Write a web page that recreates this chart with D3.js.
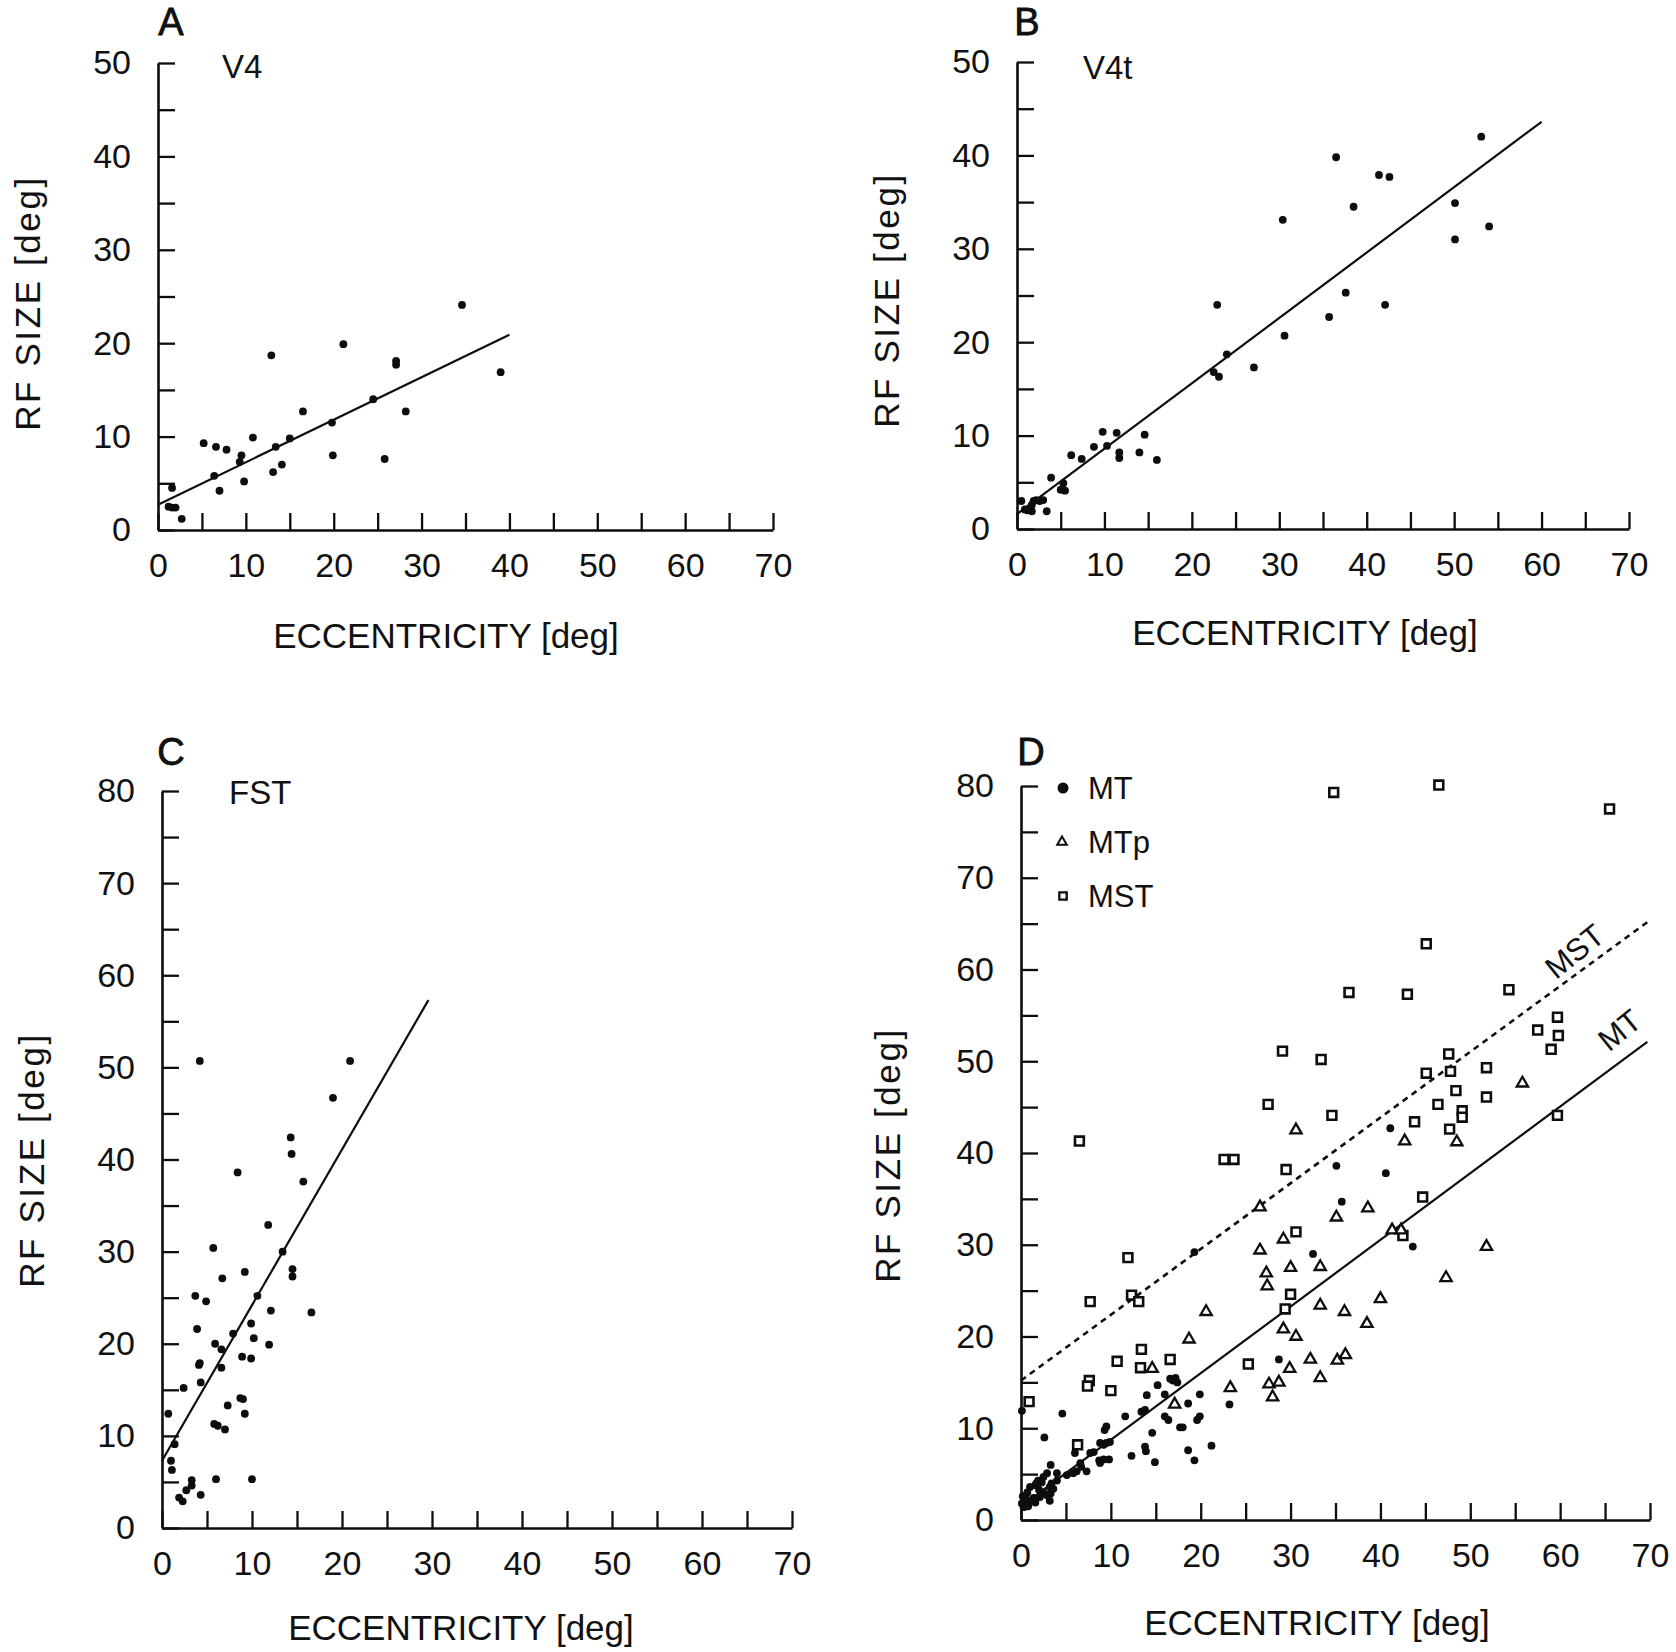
<!DOCTYPE html>
<html><head><meta charset="utf-8">
<script src="https://cdn.jsdelivr.net/npm/d3@7"></script>
<style>
body{margin:0;background:#fff;}
svg text{font-family:"Liberation Sans", Arial, Helvetica, sans-serif; fill:#111;}
</style></head><body>
<svg id="chart" width="1676" height="1652"></svg>
<script>
// ---------------- DATA ----------------
const xTickValues = [0,5,10,15,20,25,30,35,40,45,50,55,60,65,70];
const yTicksV4 = [0,5,10,15,20,25,30,35,40,45,50];
const yTicksMT = [0,5,10,15,20,25,30,35,40,45,50,55,60,65,70,75,80];

const v4Points = [[1.6,4.5],[1.2,2.5],[1.6,2.4],[2.0,2.4],[2.7,1.2],[5.2,9.3],[6.6,8.9],[6.4,5.8],[7.0,4.2],[7.8,8.6],[9.5,8.0],[9.3,7.3],[9.8,5.2],[10.8,9.9],[12.9,18.7],[13.1,6.2],[13.4,8.9],[14.1,7.0],[15.0,9.8],[16.5,12.7],[19.8,11.5],[19.9,8.0],[21.1,19.9],[24.5,14.0],[25.8,7.6],[27.1,17.7],[27.1,18.1],[28.2,12.7],[34.6,24.1],[39.0,16.9]];
const v4Fit = [[0,2.7],[40,20.9]];

const v4tPoints = [[0.5,3.0],[0.9,2.1],[1.2,2.0],[1.4,2.2],[1.7,2.6],[1.7,1.9],[1.9,3.0],[2.2,3.1],[2.6,3.0],[3.0,3.1],[3.4,1.9],[3.9,5.5],[5.0,4.2],[5.5,4.1],[5.3,4.9],[6.2,7.9],[7.4,7.5],[8.8,8.8],[9.8,10.4],[10.3,8.9],[11.4,10.3],[11.7,8.2],[11.7,7.6],[14.0,8.2],[14.6,10.1],[16.0,7.4],[22.9,24.0],[22.5,16.8],[23.1,16.3],[24.0,18.7],[27.1,17.3],[30.4,33.1],[30.6,20.7],[35.7,22.7],[36.5,39.8],[37.6,25.3],[38.5,34.5],[41.4,37.9],[42.6,37.7],[42.1,24.0],[50.1,34.9],[50.1,31.0],[53.1,42.0],[54.0,32.4]];
const v4tFit = [[0,1.6],[60,43.6]];

const fstPoints = [[0.7,12.4],[1.4,9.1],[1.0,7.3],[1.1,6.3],[2.4,15.2],[1.9,3.3],[2.3,2.9],[2.7,4.1],[3.3,5.2],[3.3,4.6],[4.3,3.6],[4.2,50.7],[3.7,25.2],[3.9,21.6],[4.1,17.7],[4.2,17.9],[4.3,15.8],[4.9,24.6],[5.7,30.4],[5.9,20.0],[6.6,19.4],[6.6,17.4],[6.7,27.1],[5.8,11.3],[6.2,11.1],[7.0,10.7],[6.0,5.3],[7.3,13.3],[7.9,21.1],[8.4,38.6],[8.7,14.1],[9.0,14.0],[9.2,12.4],[8.9,18.6],[9.2,27.8],[9.9,22.2],[9.9,18.4],[10.2,20.6],[10.0,5.3],[10.6,25.2],[11.8,32.9],[12.1,23.6],[11.9,19.9],[13.4,30.0],[14.3,42.4],[14.4,40.6],[14.5,28.1],[14.5,27.3],[15.7,37.6],[16.6,23.4],[19.0,46.7],[20.9,50.7]];
const fstFit = [[0,7.3],[29.6,57.3]];

const mtPoints = [[41.1,42.7],[35.1,38.6],[40.6,37.8],[35.7,34.7],[43.6,29.8],[32.5,29.0],[19.3,29.2],[28.7,17.5],[23.2,12.6],
[0.1,11.9],[4.6,11.6],[2.6,9.0],
[15.2,14.7],[16.0,13.7],[14.0,13.6],[16.9,15.2],[17.2,15.5],[17.4,15.0],[16.6,15.4],
[19.9,13.7],[18.6,12.7],[19.9,11.3],[19.6,10.9],[13.4,11.8],[13.8,12.0],[11.6,11.3],[9.5,10.2],[9.3,9.8],
[16.0,11.3],[16.4,10.9],[17.7,10.1],[18.0,10.1],[14.6,9.5],[13.8,8.0],[13.9,7.5],[12.3,7.0],[14.9,6.3],
[18.6,7.6],[19.3,6.5],[21.2,8.1],
[8.8,8.4],[9.5,8.4],[9.9,8.5],[9.2,8.2],[7.7,7.3],[8.1,7.4],[8.7,6.5],[9.2,6.6],[9.8,6.6],[8.8,6.2],
[6.6,6.2],[6.7,5.8],[7.3,5.3],[6.2,5.3],[5.8,5.1],[5.1,4.9],[6.0,7.3],[4.0,5.1],[4.0,4.3],[3.3,6.0],
[3.2,3.6],[3.3,2.9],[3.2,2.1],[2.9,5.1],[2.5,4.7],[2.3,4.1],[1.6,3.8],[1.9,4.3],[1.7,4.0],
[0.3,1.9],[0.5,2.5],[0.7,3.0],[1.0,3.6],[0.1,1.8],[0.3,1.4],[2.1,2.5],[2.5,3.0],[2.9,2.7],[1.2,2.1],[1.6,1.9],
[3.4,4.0],[3.6,3.4],[0.6,2.2],[1.0,2.0],[1.4,2.4],[0.2,2.6],[2.0,3.3],[0.8,1.5]];
const mtpPoints = [[55.8,47.6],[30.6,42.5],[42.7,41.3],[48.5,41.2],[26.6,34.1],[35.1,33.0],[38.6,34.0],[41.3,31.6],[42.3,31.6],[51.8,29.8],[26.6,29.4],[29.2,30.6],[27.3,26.9],[30.0,27.5],[33.3,27.6],[27.4,25.5],[47.3,26.4],[40.0,24.1],[20.6,22.7],[33.3,23.4],[36.0,22.7],[38.5,21.4],[18.7,19.7],[29.2,20.8],[30.6,20.0],[14.6,16.5],[32.2,17.5],[35.2,17.4],[36.1,18.0],[29.9,16.5],[33.3,15.5],[23.3,14.4],[27.6,14.8],[28.7,15.0],[28.0,13.4],[17.1,12.6]];
const mstPoints = [[34.8,79.3],[46.5,80.1],[65.5,77.5],[45.1,62.8],[36.5,57.5],[43.0,57.3],[54.3,57.8],[29.1,51.1],[33.4,50.2],[57.5,53.4],[59.7,54.8],[59.8,52.8],[59.0,51.3],[47.6,50.8],[45.1,48.7],[47.8,48.9],[51.8,49.3],[48.4,46.8],[51.8,46.1],[27.5,45.3],[46.4,45.3],[49.1,44.6],[49.1,43.9],[43.8,43.4],[47.7,42.6],[59.7,44.1],[34.6,44.1],[6.5,41.3],[22.6,39.3],[23.7,39.3],[29.5,38.2],[44.7,35.2],[30.6,31.4],[42.5,31.0],[30.0,24.6],[29.4,23.0],[11.9,28.6],[7.7,23.8],[12.3,24.5],[13.1,23.8],[13.4,18.6],[13.3,16.6],[16.6,17.5],[10.7,17.3],[25.3,17.0],[7.6,15.2],[7.4,14.6],[10.0,14.1],[0.9,12.9],[6.3,8.2]];
const mtFit = [[0.3,1.7],[69.7,52.1]];
const mstFit = [[0,15.2],[69.9,65.3]];
const legendLabels = ["MT","MTp","MST"];

// ---------------- DRAW ----------------
const svg = d3.select("#chart");
const INK = "#0d0d0d";

function makePanel(cfg){
  const x = d3.scaleLinear().domain([0,70]).range([cfg.left, cfg.right]);
  const y = d3.scaleLinear().domain([0, cfg.yMax]).range([cfg.bottom, cfg.top]);
  const g = svg.append("g");
  const fmt = d => (d % 10 === 0 ? d : "");
  const gx = g.append("g").attr("transform", `translate(0,${cfg.bottom})`)
    .call(d3.axisBottom(x).tickValues(xTickValues).tickSize(-17).tickSizeOuter(0).tickPadding(23).tickFormat(fmt));
  const gy = g.append("g").attr("transform", `translate(${cfg.left},0)`)
    .call(d3.axisLeft(y).tickValues(cfg.yTicks).tickSize(-17).tickSizeOuter(0).tickPadding(27).tickFormat(fmt));
  [gx, gy].forEach(a => {
    a.attr("font-family", null).attr("font-size", null);
    a.select(".domain").attr("stroke", INK).attr("stroke-width", 2.6);
    a.selectAll(".tick line").attr("stroke", INK).attr("stroke-width", 2.3);
    a.selectAll(".tick text").attr("font-size", 34).attr("fill", INK);
  });
  // titles
  g.append("text").attr("x", cfg.xTitle[0]).attr("y", cfg.xTitle[1]).attr("dy", "0.35em")
    .attr("text-anchor","middle").attr("font-size", 35).text("ECCENTRICITY [deg]");
  g.append("text").attr("transform", `translate(${cfg.yTitle[0]},${cfg.yTitle[1]}) rotate(-90)`)
    .attr("dy","0.35em").attr("text-anchor","middle").attr("font-size", 35)
    .attr("letter-spacing", 2.6).text("RF SIZE [deg]");
  g.append("text").attr("x", cfg.letter[0]).attr("y", cfg.letter[1]).attr("dy","0.35em")
    .attr("text-anchor","middle").attr("font-size", 38).attr("stroke", INK).attr("stroke-width", 0.8)
    .text(cfg.id);
  if (cfg.sub) {
    g.append("text").attr("x", cfg.sub[1]).attr("y", cfg.sub[2]).attr("dy","0.35em")
      .attr("font-size", 33).text(cfg.sub[0]);
  }
  return {g, x, y};
}

function dots(p, data, r){
  p.g.append("g").selectAll("circle").data(data).join("circle")
    .attr("cx", d => p.x(d[0])).attr("cy", d => p.y(d[1])).attr("r", r).attr("fill", INK);
}
function fit(p, data, dash){
  p.g.append("path").datum(data)
    .attr("d", d3.line().x(d => p.x(d[0])).y(d => p.y(d[1])))
    .attr("fill","none").attr("stroke", INK).attr("stroke-width", dash ? 2.6 : 2.2)
    .attr("stroke-dasharray", dash ? "6,5" : null);
}

// Panel A
const pA = makePanel({id:"A", left:158, right:773, bottom:530, top:63, yMax:50, yTicks:yTicksV4,
  xTitle:[446,636], yTitle:[28,303], letter:[171,22], sub:["V4",222,66]});
fit(pA, v4Fit); dots(pA, v4Points, 3.9);

// Panel B
const pB = makePanel({id:"B", left:1017, right:1629, bottom:529, top:62, yMax:50, yTicks:yTicksV4,
  xTitle:[1305,633], yTitle:[887,300], letter:[1027,22], sub:["V4t",1083,67]});
fit(pB, v4tFit); dots(pB, v4tPoints, 3.9);

// Panel C
const pC = makePanel({id:"C", left:162, right:792, bottom:1528, top:791, yMax:80, yTicks:yTicksMT,
  xTitle:[461,1628], yTitle:[32,1160], letter:[171,752], sub:["FST",229,792]});
fit(pC, fstFit); dots(pC, fstPoints, 3.9);

// Panel D
const pD = makePanel({id:"D", left:1021, right:1650, bottom:1520, top:786, yMax:80, yTicks:yTicksMT,
  xTitle:[1317,1623], yTitle:[888,1155], letter:[1031,752], sub:null});
fit(pD, mstFit, true); fit(pD, mtFit);
const tri = d3.symbol().type(d3.symbolTriangle).size(55);
const sq = d3.symbol().type(d3.symbolSquare).size(78);
pD.g.append("g").selectAll("path").data(mstPoints).join("path")
  .attr("d", sq).attr("transform", d => `translate(${pD.x(d[0])},${pD.y(d[1])})`)
  .attr("fill","#fff").attr("stroke", INK).attr("stroke-width", 2.6);
pD.g.append("g").selectAll("path").data(mtpPoints).join("path")
  .attr("d", tri).attr("transform", d => `translate(${pD.x(d[0])},${pD.y(d[1])})`)
  .attr("fill","#fff").attr("stroke", INK).attr("stroke-width", 2.3);
dots(pD, mtPoints, 3.9);

// line labels
function lineLabel(p, txt, at, ang){
  p.g.append("text").attr("transform", `translate(${p.x(at[0])},${p.y(at[1])}) rotate(${ang})`)
    .attr("text-anchor","middle").attr("dy","0.35em").attr("font-size", 31).text(txt);
}
lineLabel(pD, "MST", [61.6,62.0], -39);
lineLabel(pD, "MT", [66.6,53.4], -39);

// legend
const lg = pD.g.append("g");
const legY = [788, 842, 896];
lg.append("circle").attr("cx",1063).attr("cy",legY[0]).attr("r",5.5).attr("fill",INK);
lg.append("path").attr("d", d3.symbol().type(d3.symbolTriangle).size(40)).attr("transform",`translate(1062,${legY[1]})`)
  .attr("fill","#fff").attr("stroke",INK).attr("stroke-width",2);
lg.append("path").attr("d", d3.symbol().type(d3.symbolSquare).size(55)).attr("transform",`translate(1063,${legY[2]})`)
  .attr("fill","#fff").attr("stroke",INK).attr("stroke-width",2.3);
lg.selectAll("text").data(legendLabels).join("text")
  .attr("x",1088).attr("y",(d,i)=>legY[i]).attr("dy","0.35em").attr("font-size",31).text(d=>d);
</script>
</body></html>
